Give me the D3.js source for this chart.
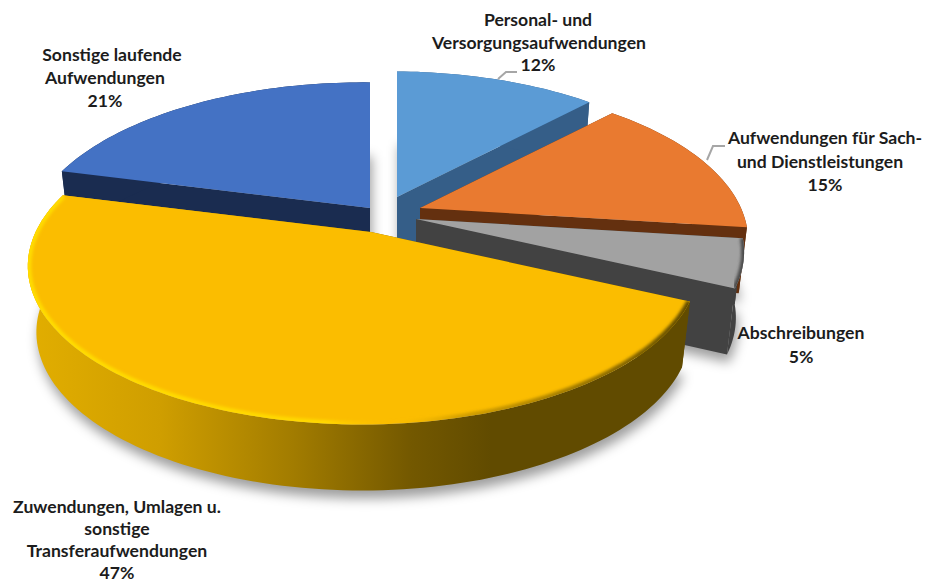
<!DOCTYPE html>
<html>
<head>
<meta charset="utf-8">
<script src="https://cdn.jsdelivr.net/npm/d3@7"></script>
<style>
	html, body {margin:0; padding:0; background:#fff;}
	svg {display:block;}
	text {font-family:Lato, "Open Sans", sans-serif; font-weight:700; font-size:17.6px; fill:#1c1c1c; text-anchor:middle;}
</style>
</head>
<body>
<div id="chart"></div>
<script>
const categories = ['Personal- und Versorgungsaufwendungen', 'Aufwendungen für Sach- und Dienstleistungen', 'Abschreibungen', 'Zuwendungen, Umlagen u. sonstige Transferaufwendungen', 'Sonstige laufende Aufwendungen'];
const values = [12, 15, 5, 47, 21];
const labelLines = [
	['Personal- und', 'Versorgungsaufwendungen'],
	['Aufwendungen für Sach-', 'und Dienstleistungen'],
	['Abschreibungen'],
	['Zuwendungen, Umlagen u.', 'sonstige', 'Transferaufwendungen'],
	['Sonstige laufende', 'Aufwendungen']
];
const topColors = ['#5b9bd5', '#e97a30', '#a2a2a2', '#fbbd00', '#4472c4'];
const sideColors = ['#355e88', '#64300f', '#424242', 'url(#yellowSide)', '#1a2c50'];
// how far each slice is pulled out of the pie, in pixels
const explodeX = [11, 34, 30, -15, -16];
const explodeY = [-15, -4, 7, 20, -4];
const drawOrder = [4, 0, 1, 2, 3];

// label anchor: x, y of the first baseline, line height, nudge per line
const labelPos = [[538, 26, 22.5], [822, 144, 23.5], [801, 339, 24], [117, 513, 22], [105, 61, 23]];
const labelDx = [[0, 1, 0], [3, -2, 3], [0, 0], [0, 0, 0, 0], [7, 0, 0]];
const leaders = [[[498, 79], [506, 72], [517, 72]], [[707, 160], [713, 146], [725, 146]]];

const width = 926, height = 586;
const cx = 386, cy = 212;			// pie centre on screen
const A = 328, B = 152;				// horizontal and vertical radius
const pV = 0.21, pU = 0.022;		// perspective front to back, left to right
const H = 66;						// thickness

const svg = d3.select('#chart').append('svg').attr('width', width).attr('height', height);
const defs = svg.append('defs');

defs.append('filter').attr('id', 'shadowBlur')
	.attr('x', '-20%').attr('y', '-20%').attr('width', '140%').attr('height', '140%')
	.append('feGaussianBlur').attr('stdDeviation', 6);
defs.append('filter').attr('id', 'rimBlur')
	.attr('x', '-10%').attr('y', '-10%').attr('width', '120%').attr('height', '120%')
	.append('feGaussianBlur').attr('stdDeviation', 1.8);

function gradient(id, stops){
	const g = defs.append('linearGradient').attr('id', id)
		.attr('gradientUnits', 'userSpaceOnUse')
		.attr('x1', 28).attr('x2', 690).attr('y1', 0).attr('y2', 0);
	stops.forEach(function(s){
		g.append('stop').attr('offset', s[0]).attr('stop-color', s[1]).attr('stop-opacity', s[2] === undefined ? 1 : s[2]);
	});
}
gradient('yellowSide', [[0, '#e2ae00'], [0.2, '#cf9e00'], [0.4, '#a27c00'], [0.58, '#735800'], [0.7, '#614b00'], [1, '#614b00']]);
gradient('yellowRim', [[0, '#ffdc00'], [0.45, '#ffd800'], [0.55, '#fbbd00', 0], [0.65, '#7a5e00', 0.3], [1, '#5f4a00']]);

function project(u, v, h){
	const s = 1 / (1 + pV * v + pU * u);
	const k = 1 - 0.025 * h / H;
	return [cx + A * u * s * k, cy - B * v * s + h];
}

const line = d3.line();

const slices = d3.pie().sort(null).startAngle(0).endAngle(2 * Math.PI)(values).map(function(d, i){
	return {
		index: i,
		start: d.startAngle,
		end: d.endAngle,
		ox: explodeX[i],
		oy: explodeY[i]
	};
});

function place(sl, u, v, h){
	const q = project(u, v, h);
	return [q[0] + sl.ox, q[1] + sl.oy];
}
function arcPts(sl, h, reverse){
	const n = Math.max(8, Math.round((sl.end - sl.start) * 40));
	let pts = d3.range(n + 1).map(function(j){
		const a = sl.start + (sl.end - sl.start) * j / n;
		return place(sl, Math.sin(a), Math.cos(a), h);
	});
	return reverse ? pts.reverse() : pts;
}
function apex(sl, h){
	return place(sl, 0, 0, h);
}

const gShadow = svg.append('g').attr('transform', 'translate(2,8)').attr('filter', 'url(#shadowBlur)');
const gPie = svg.append('g');

drawOrder.forEach(function(i){
	const sl = slices[i];
	const top = [apex(sl, 0)].concat(arcPts(sl, 0));
	const base = [apex(sl, H)].concat(arcPts(sl, H));

	gShadow.append('path').attr('d', line(base) + 'Z').attr('fill', '#000').attr('fill-opacity', 0.38);

	const g = gPie.append('g');
	const side = sideColors[i];
	// straight walls
	[sl.start, sl.end].forEach(function(a){
		const t = place(sl, Math.sin(a), Math.cos(a), 0);
		const b = place(sl, Math.sin(a), Math.cos(a), H);
		g.append('path').attr('d', line([apex(sl, 0), t, b, apex(sl, H)]) + 'Z').attr('fill', side);
	});
	// curved wall
	g.append('path').attr('d', line(arcPts(sl, 0).concat(arcPts(sl, H, true))) + 'Z').attr('fill', side);
	// top
	g.append('path').attr('d', line(top) + 'Z').attr('fill', topColors[i]);
	// soft edge of the top, kept inside the top by a clip
	if(i === 3 || i === 2){
		defs.append('clipPath').attr('id', 'clipTop' + i).append('path').attr('d', line(top) + 'Z');
		g.append('g').attr('clip-path', 'url(#clipTop' + i + ')')
			.append('path').attr('d', line(arcPts(sl, 0))).attr('fill', 'none')
			.attr('stroke', i === 3 ? 'url(#yellowRim)' : '#4a4a4a')
			.attr('stroke-width', i === 3 ? 7 : 6)
			.attr('filter', 'url(#rimBlur)');
	}
});

const gLabels = svg.append('g');
leaders.forEach(function(l){
	gLabels.append('path').attr('d', line(l)).attr('fill', 'none').attr('stroke', '#a6a6a6').attr('stroke-width', 2);
});
categories.forEach(function(c, i){
	const lines = labelLines[i].concat([values[i] + '%']);
	const t = gLabels.append('text').attr('aria-label', c);
	lines.forEach(function(s, j){
		t.append('tspan').attr('x', labelPos[i][0] + labelDx[i][j]).attr('y', labelPos[i][1] + j * labelPos[i][2]).text(s);
	});
});
</script>
</body>
</html>
